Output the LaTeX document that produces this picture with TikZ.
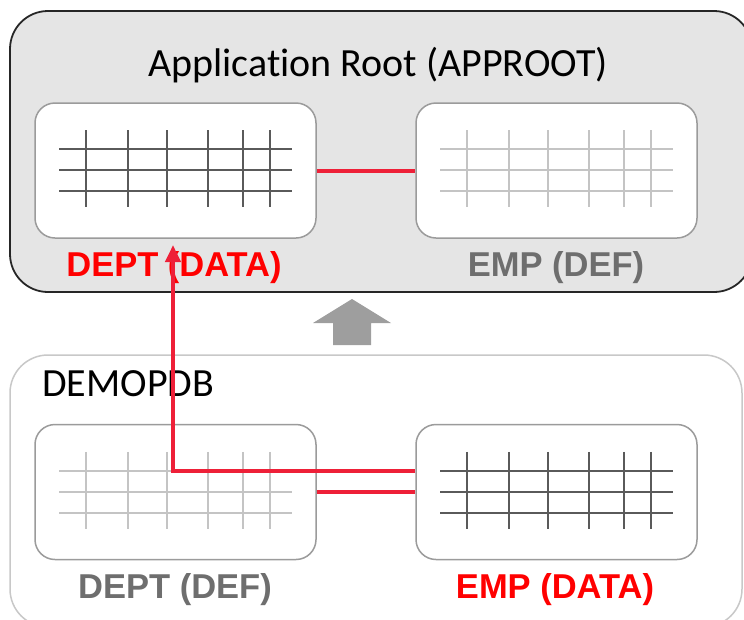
\documentclass[tikz,border=0pt]{standalone}
\usepackage{fontspec}
\setmainfont{Carlito}[RawFeature=-liga]
\newfontfamily\arialb{Liberation Sans}
\usetikzlibrary{arrows.meta,calc}
\definecolor{boxgray}{HTML}{E5E5E5}
\definecolor{tblborder}{HTML}{9B9B9B}
\definecolor{dbborder}{HTML}{C8C8C8}
\definecolor{gridd}{HTML}{5A5A5A}
\definecolor{gridl}{HTML}{C4C4C4}
\definecolor{conred}{HTML}{EE2038}
\definecolor{labred}{HTML}{FF0000}
\definecolor{labgray}{HTML}{6E6E6E}
\definecolor{arrgray}{HTML}{9E9E9E}
\newcommand{\tablegrid}[2]{%
  \foreach \yy in {47,68,89} \draw[#2,line width=2pt] ($(#1.north west)+(25,\yy)$) -- ++(233,0);
  \foreach \xx in {52,94,133,174,209,236} \draw[#2,line width=2pt] ($(#1.north west)+(\xx,28)$) -- ++(0,77);
}
\begin{document}
\begin{tikzpicture}[x=1pt,y=-1pt,
  tbl/.style={draw=tblborder,line width=1.5pt,fill=white,rounded corners=20pt,minimum width=281pt,minimum height=135pt,inner sep=0pt},
  lab/.style={font=\arialb\bfseries\fontsize{34.5}{38}\selectfont,inner sep=0pt,anchor=center},
  conn/.style={draw=conred,line width=4pt}]
\useasboundingbox (0,0) rectangle (744,619);
% containers
\begin{scope}
\clip (0,0) rectangle (744,619);
\node[draw=black!85,line width=1.8pt,fill=boxgray,rounded corners=38pt,minimum width=742pt,minimum height=281pt,inner sep=0pt] (root) at (381,151.5) {};
\node[draw=dbborder,line width=1.5pt,fill=white,rounded corners=38pt,minimum width=732pt,minimum height=272pt,inner sep=0pt] (pdb) at (376,491) {};
\end{scope}
\node[font=\fontsize{40}{44}\selectfont,inner sep=0pt] (title) at (378,65) {Application Root (APPROOT)};
\node[font=\fontsize{40}{44}\selectfont,inner sep=0pt,anchor=west] (pdbname) at (42,384) {DEMOPDB};
% tables
\node[tbl] (dept1) at (175.5,170.5) {};
\node[tbl] (emp1) at (556.5,170.5) {};
\node[tbl] (dept2) at (175.5,492) {};
\node[tbl] (emp2) at (556.5,492) {};
\tablegrid{dept1}{gridd}
\tablegrid{emp1}{gridl}
\tablegrid{dept2}{gridl}
\tablegrid{emp2}{gridd}
% labels
\node[lab,text=labred] (l1) at (174,268) {DEPT (DATA)};
\node[lab,text=labgray] (l2) at (556,268) {EMP (DEF)};
\node[lab,text=labgray] (l3) at (175,590) {DEPT (DEF)};
\node[lab,text=labred] (l4) at (555,590) {EMP (DATA)};
% connectors
\coordinate (c1) at (173,471);
\coordinate (tip) at (173,245);
\draw[conn] (dept1.east) -- (emp1.west);
\draw[conn] (dept2.east |- 0,492) -- (emp2.west |- 0,492);
\draw[conn,-{Triangle[length=17pt,width=15pt]}] (emp2.west |- c1) -- (c1) -- (tip);
% block arrow
\fill[arrgray] (333,345) -- (333,323) -- (313,323) -- (352,299) -- (391,323) -- (371,323) -- (371,345) -- cycle;
\end{tikzpicture}
\end{document}
